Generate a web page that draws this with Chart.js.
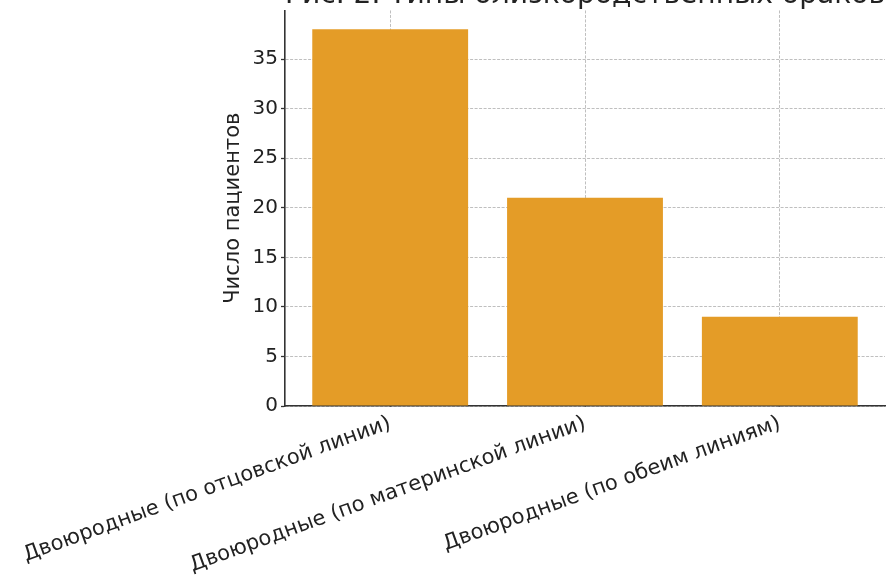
<!DOCTYPE html>
<html>
<head>
<meta charset="utf-8">
<script src="https://cdn.jsdelivr.net/npm/chart.js@4.4.1/dist/chart.umd.min.js"></script>
<style>
  html, body { margin: 0; padding: 0; background: #fff; }
  #wrap { position: relative; width: 889px; height: 581px; overflow: hidden; }
  #inner { position: absolute; left: 0; top: -20px; width: 889px; height: 601px; }
</style>
</head>
<body>
<div id="wrap"><div id="inner"><canvas id="c"></canvas></div></div>
<script>
const chartTitle = 'Рис. 2. Типы близкородственных браков';
const yAxisTitle = 'Число пациентов';
const categories = [
  'Двоюродные (по отцовской линии)',
  'Двоюродные (по материнской линии)',
  'Двоюродные (по обеим линиям)'
];
const patients = [38, 21, 9];
const yTickStep = 5;

const FONT = "'DejaVu Sans', sans-serif";
const TEXT = '#222222';
const AXIS = '#333333';
const GRID = 'rgba(0,0,0,0.25)';

new Chart(document.getElementById('c'), {
  type: 'bar',
  data: {
    datasets: [{
      data: patients.map((v, i) => ({ x: i, y: v })),
      backgroundColor: '#E49C27',
      borderWidth: 0,
      barPercentage: 1.0,
      categoryPercentage: 0.8
    }]
  },
  options: {
    responsive: true,
    maintainAspectRatio: false,
    animation: false,
    layout: { padding: { left: 217, right: 4, top: 0, bottom: 0 } },
    plugins: {
      legend: { display: false },
      tooltip: { enabled: false },
      title: {
        display: true,
        text: chartTitle,
        fullSize: false,
        color: TEXT,
        font: { family: FONT, size: 29, weight: 'normal', lineHeight: 1.05 },
        padding: { top: 0, bottom: 0 }
      }
    },
    scales: {
      x: {
        type: 'linear',
        min: -0.54,
        max: 2.54,
        offset: false,
        z: 1,
        afterBuildTicks: (s) => { s.ticks = categories.map((c, i) => ({ value: i })); },
        afterFit: (s) => { s.paddingLeft = 0; s.paddingRight = 0; s.height = 175; },
        ticks: {
          autoSkip: false,
          minRotation: 20,
          maxRotation: 20,
          color: TEXT,
          padding: 11,
          font: { family: FONT, size: 21 },
          callback: (v) => categories[v]
        },
        grid: {
          offset: false,
          color: GRID,
          tickLength: -6,
          tickColor: AXIS,
          tickWidth: 1.6,
          tickBorderDash: [100, 0]
        },
        border: { display: true, color: AXIS, width: 1.6, dash: [3, 1.5] }
      },
      y: {
        min: 0,
        max: 39.9,
        afterFit: (s) => { s.width = 68; },
        ticks: {
          stepSize: yTickStep,
          includeBounds: false,
          color: TEXT,
          padding: 3,
          font: { family: FONT, size: 20 }
        },
        grid: {
          color: GRID,
          tickLength: 4,
          tickColor: AXIS,
          tickWidth: 1.3,
          tickBorderDash: [100, 0]
        },
        border: { display: true, color: AXIS, width: 1.6, dash: [3, 1.5] },
        title: {
          display: true,
          text: yAxisTitle,
          color: TEXT,
          font: { family: FONT, size: 21 },
          padding: { top: 4, bottom: 4 }
        }
      }
    }
  }
});
</script>
</body>
</html>
